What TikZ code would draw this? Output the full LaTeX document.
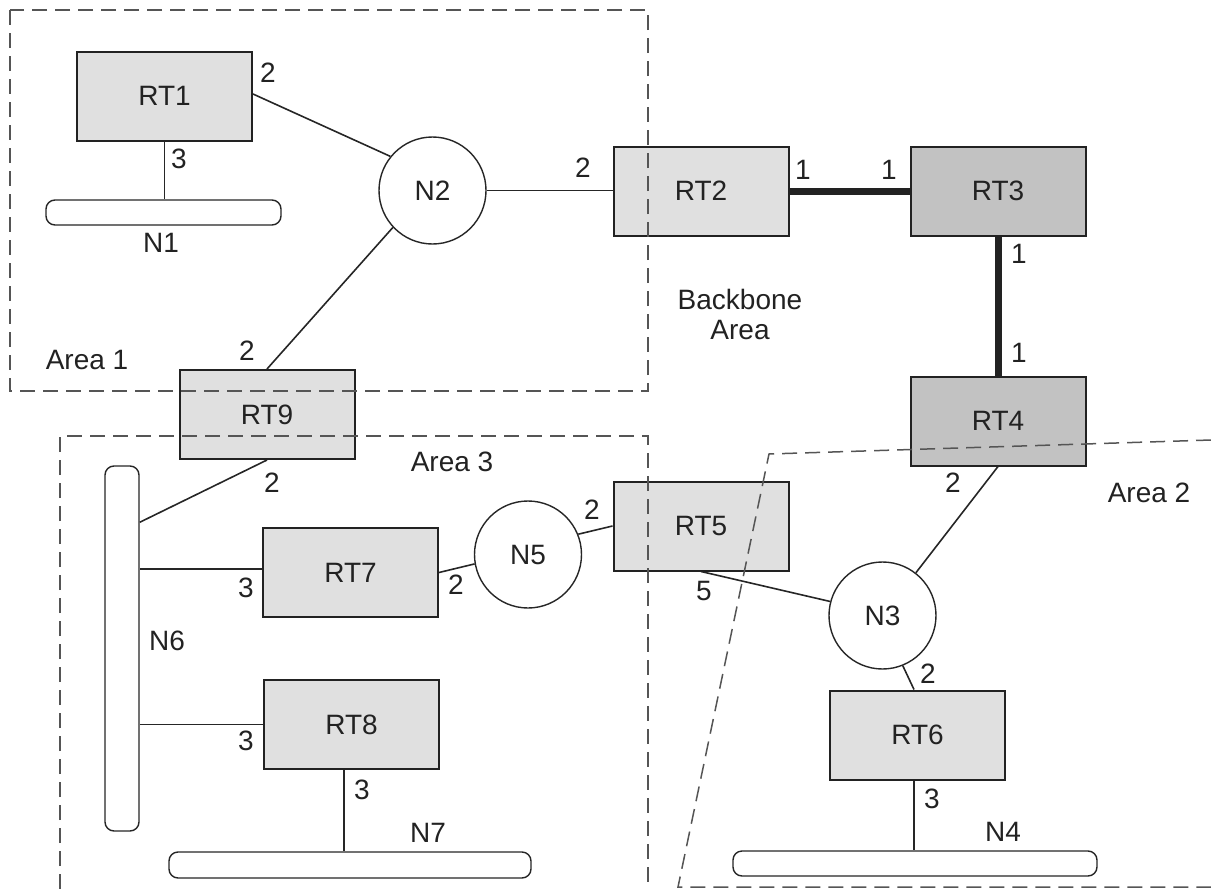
\documentclass[tikz,border=0pt]{standalone}
\usepackage{fontspec}
\setmainfont{Liberation Sans}
\usetikzlibrary{backgrounds}
\definecolor{ink}{HTML}{222222}
\definecolor{linkgray}{HTML}{262626}
\definecolor{dashgray}{HTML}{555555}
\definecolor{lightfill}{HTML}{E0E0E0}
\definecolor{darkfill}{HTML}{C2C2C2}
\newcommand\labfont{\fontsize{28}{33}\selectfont}
\tikzset{
  router/.style={draw=ink, line width=2pt, fill=lightfill, minimum width=175pt,
    minimum height=89pt, inner sep=0pt, text=ink, font=\labfont},
  bbrouter/.style={router, fill=darkfill},
  transit/.style={circle, draw=linkgray, line width=1.4pt, fill=white,
    minimum size=107pt, inner sep=0pt, text=ink, font=\labfont},
  stub/.style={draw=linkgray, line width=1.4pt, fill=white, rounded corners=9pt,
    inner sep=0pt},
  cost/.style={text=ink, font=\labfont, inner sep=0pt},
  link/.style={draw=linkgray, line width=1.6pt},
  trunk/.style={draw=ink, line width=7pt},
  areabound/.style={draw=dashgray, line width=1.5pt, dash pattern=on 15pt off 8pt}
}
\begin{document}
\begin{tikzpicture}[x=1pt, y=-1pt]
\useasboundingbox (0,0) rectangle (1211,889);

% routers
\node[router]   (RT1) at (164.5,96)   {RT1};
\node[router]   (RT2) at (701,191)    {RT2};
\node[bbrouter] (RT3) at (998,191)    {RT3};
\node[bbrouter] (RT4) at (998,421)    {RT4};
\node[router]   (RT9) at (267,414.5)  {RT9};
\node[router]   (RT7) at (350.5,572.5){RT7};
\node[router]   (RT5) at (701,526)    {RT5};
\node[router]   (RT6) at (917.5,735)  {RT6};
\node[router]   (RT8) at (351.5,724.5){RT8};

% transit networks
\node[transit] (N2) at (432.5,190.5) {N2};
\node[transit] (N5) at (528,554.5)   {N5};
\node[transit] (N3) at (882.5,615.5) {N3};

% stub networks
\node[stub, minimum width=235pt, minimum height=25pt] (N1) at (163.5,212.5) {};
\node[stub, minimum width=34pt, minimum height=365pt] (N6) at (122,648.5) {};
\node[stub, minimum width=362pt, minimum height=26pt] (N7) at (350,865) {};
\node[stub, minimum width=364pt, minimum height=25pt] (N4) at (915,863.5) {};

% links
\begin{scope}[on background layer]
  \draw[link] ([yshift=2pt]RT1.east) -- (N2.141);
  \draw[link] (RT1.south) -- (RT1.south |- N1.north);
  \draw[link] (N2.east) -- (N2.east -| RT2.west);
  \draw[trunk] (RT2.east) -- (RT3.west);
  \draw[trunk] (RT3.south) -- (RT4.north);
  \draw[link] (N2.223) -- (RT9.north);
  \draw[link] (RT9.south) -- ([yshift=-57pt]N6.north east);
  \draw[link] ([yshift=3.5pt]RT7.west) -- ([yshift=3.5pt]RT7.west -| N6.east);
  \draw[link] (RT8.west) -- (RT8.west -| N6.east);
  \draw[link] ([xshift=-7.5pt]RT8.south) -- ([xshift=-7.5pt]RT8.south |- N7.north);
  \draw[link] (RT7.east) -- (N5.190);
  \draw[link] (N5.22) -- (RT5.west);
  \draw[link] (RT5.south) -- (N3.165);
  \draw[link] (RT4.south) -- (N3.52);
  \draw[link] (N3.-68) -- ([xshift=-3.5pt]RT6.north);
  \draw[link] ([xshift=-3.5pt]RT6.south) -- ([xshift=-3.5pt]RT6.south |- N4.north);
\end{scope}

% interface costs
\node[cost] (c1)  at (268,73)  {2};
\node[cost] (c2)  at (179,159) {3};
\node[cost] (c3)  at (583,168) {2};
\node[cost] (c4)  at (803,170) {1};
\node[cost] (c5)  at (889,170) {1};
\node[cost] (c6)  at (1019,254) {1};
\node[cost] (c7)  at (1019,353) {1};
\node[cost] (c8)  at (247,351) {2};
\node[cost] (c9)  at (272,483) {2};
\node[cost] (c10) at (592,510) {2};
\node[cost] (c11) at (456,585) {2};
\node[cost] (c12) at (246,588) {3};
\node[cost] (c13) at (704,591) {5};
\node[cost] (c14) at (953,483) {2};
\node[cost] (c15) at (928,674) {2};
\node[cost] (c16) at (932,799) {3};
\node[cost] (c17) at (246,741) {3};
\node[cost] (c18) at (362,790) {3};

% network names
\node[cost] (lN1) at (161,243) {N1};
\node[cost] (lN6) at (167,641) {N6};
\node[cost] (lN7) at (428,833) {N7};
\node[cost] (lN4) at (1003,832) {N4};

% area names
\node[cost] (lbb1) at (740,299) {Backbone};
\node[cost] (lbb2) at (740,330) {Area};
\node[cost] (lA1) at (87,360)   {Area 1};
\node[cost] (lA3) at (452,462)  {Area 3};
\node[cost] (lA2) at (1149,493) {Area 2};

% area boundaries
\draw[areabound] (10,10) rectangle (648,391);
\draw[areabound] (60,889) -- (60,436) -- (648,436) -- (648,889);
\draw[areabound] (1211,440) -- (769,454) -- (678,887) -- (1211,887);
\end{tikzpicture}
\end{document}
